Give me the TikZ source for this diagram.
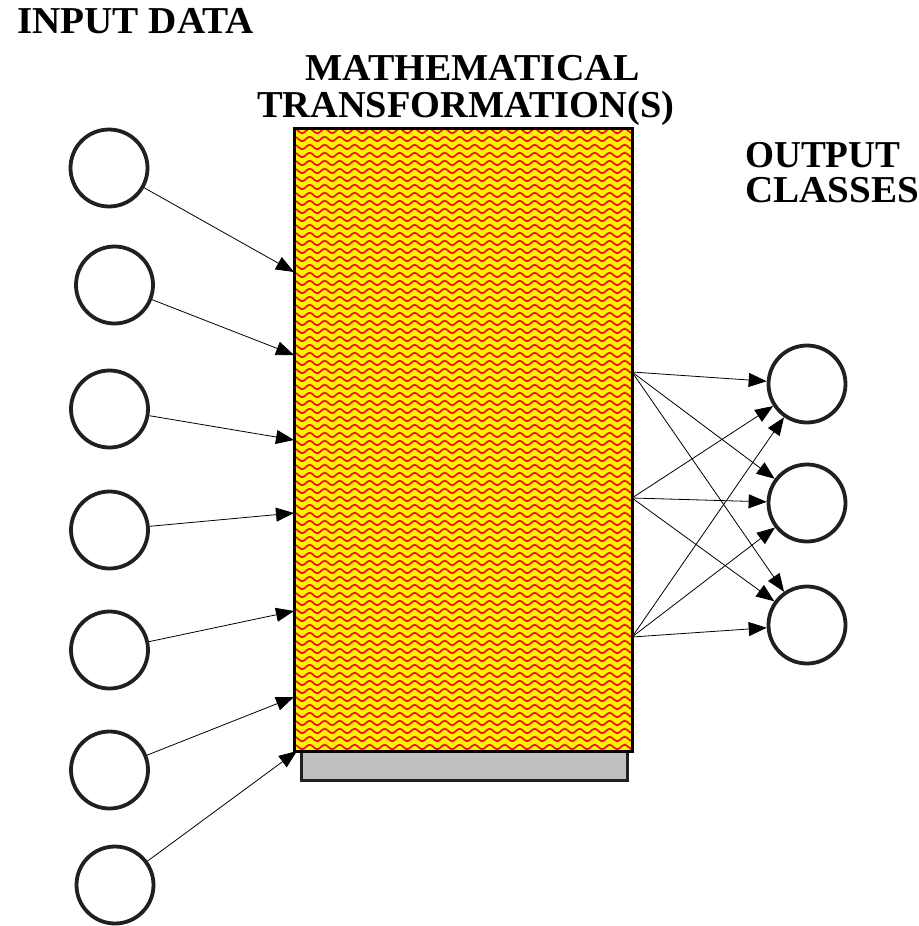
\documentclass[tikz,border=0pt]{standalone}
\usepackage{fontspec}
\setmainfont{Liberation Serif}
\usetikzlibrary{arrows.meta,decorations.pathmorphing}
\definecolor{ink}{HTML}{231F20}
\definecolor{wave}{HTML}{F51010}
\definecolor{shadowgray}{HTML}{C0C0C0}
\tikzset{
  incircle/.style={circle, draw=ink, line width=3.8pt, minimum size=77pt, inner sep=0pt},
  conn/.style={line width=0.8pt, -{Triangle[length=18pt,width=14pt]}},
  title/.style={anchor=base west, inner sep=0pt, font=\fontsize{38}{40}\selectfont\bfseries},
  wavy/.style={draw=wave, line width=1.7pt, decorate, decoration={snake, segment length=15pt, amplitude=2.2pt}},
}
\begin{document}
\begin{tikzpicture}[x=1pt, y=-1pt]
\useasboundingbox (0,0) rectangle (918,926);
% texts
\node[title] (tin) at (17,33) {\scalebox{1.03}[1]{INPUT DATA}};
\node[title] (tm1) at (305,80) {\scalebox{1.04}[1]{MATHEMATICAL}};
\node[title] (tm2) at (257,117) {\scalebox{1.01}[1]{TRANSFORMATION(S)}};
\node[title] (to1) at (745,167) {\scalebox{0.98}[1]{OUTPUT}};
\node[title] (to2) at (745,202) {\scalebox{1.03}[1]{CLASSES}};
% shadow bar
\draw[fill=shadowgray, line width=3pt, draw=ink] (301,745) rectangle (627,780);
% box with texture
\fill[yellow] (294,128) rectangle (632,751);
\begin{scope}
  \clip (294,128) rectangle (632,751);
  \foreach \yy in {131,139,...,755} {
    \draw[wavy] (290,\yy) -- (640,\yy);
  }
\end{scope}
\draw[line width=3pt, draw=black] (294,128) rectangle (632,751);
% input circles
\node[incircle] (i1) at (109,168) {};
\node[incircle] (i2) at (114.5,285) {};
\node[incircle] (i3) at (109.5,409) {};
\node[incircle] (i4) at (109.5,530) {};
\node[incircle] (i5) at (109.5,650) {};
\node[incircle] (i6) at (109.5,770) {};
\node[incircle] (i7) at (115,885) {};
% output circles
\node[incircle] (o1) at (807,384) {};
\node[incircle] (o2) at (807,503) {};
\node[incircle] (o3) at (807,625) {};
% target points on box left edge
\coordinate (t1) at (294,272);
\coordinate (t2) at (294,355);
\coordinate (t3) at (294,440);
\coordinate (t4) at (294,513);
\coordinate (t5) at (294,611);
\coordinate (t6) at (294,697);
\coordinate (t7) at (297,751);
% source points on box right edge
\coordinate (s1) at (632,372);
\coordinate (s2) at (632,498);
\coordinate (s3) at (632,637);
% input connectors
\foreach \k in {1,...,7} {
  \draw[conn] (i\k) -- (t\k);
}
% output connectors
\foreach \a in {1,2,3} {
  \foreach \b in {1,2,3} {
    \draw[conn] (s\a) -- (o\b);
  }
}
\end{tikzpicture}
\end{document}
